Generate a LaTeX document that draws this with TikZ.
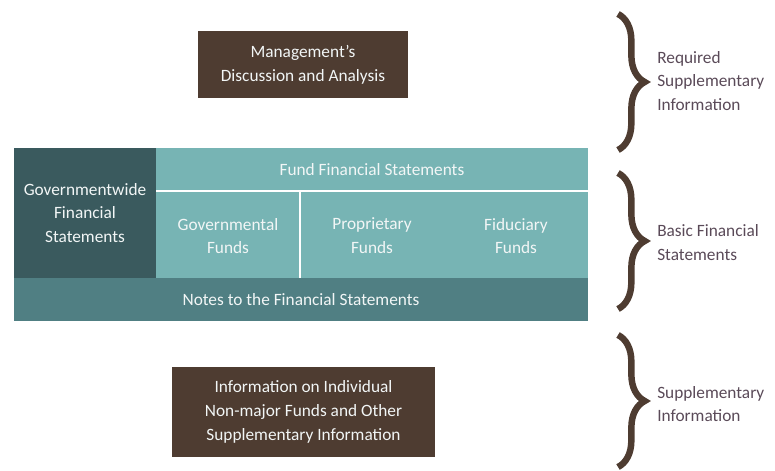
\documentclass[tikz,border=0pt]{standalone}
\usepackage{fontspec}
\setmainfont{Carlito}
\usetikzlibrary{decorations.pathreplacing}
\definecolor{mdbrown}{HTML}{4E3C31}
\definecolor{fsteal}{HTML}{77B4B4}
\definecolor{fsdark}{HTML}{3A5A5E}
\definecolor{fsnotes}{HTML}{507F83}
\definecolor{fstext}{HTML}{F2F6F6}
\definecolor{sidetxt}{HTML}{5A4A58}

\tikzset{
  brownbox/.style={fill=mdbrown, text=fstext, align=center, inner sep=0pt},
  cell/.style={inner sep=0pt, align=center, text=fstext},
  sidelabel/.style={anchor=west, align=left, text=sidetxt, inner sep=0pt},
  bigbrace/.style={draw=mdbrown, line width=4.6pt, decorate,
    decoration={brace, amplitude=19pt}},
}

\begin{document}
\begin{tikzpicture}[x=0.025cm, y=-0.025cm, font=\fontsize{12.3}{17}\selectfont]
  \useasboundingbox (0,0) rectangle (775,470);

  % top box
  \node[brownbox, minimum width=210*0.025cm, minimum height=67*0.025cm] (mda) at (303,64.5)
    {Management's\\Discussion and Analysis};

  % the statements block
  \node[cell, fill=fsdark, minimum width=142*0.025cm, minimum height=130*0.025cm] (gwide) at (85,213)
    {Governmentwide\\Financial\\Statements};
  \node[cell, fill=fsteal, minimum width=432*0.025cm, minimum height=130*0.025cm] (funds) at (372,213) {};
  \node[cell, fill=fsnotes, minimum width=574*0.025cm, minimum height=43*0.025cm] (notes) at (301,299.5)
    {Notes to the Financial Statements};
  \node[cell] (fundhead) at (372,170) {Fund Financial Statements};
  \node[cell] (govfunds) at (228,236) {Governmental\\Funds};
  \node[cell] (propfunds) at (372,236) {Proprietary\\Funds};
  \node[cell] (fidfunds) at (516,236) {Fiduciary\\Funds};
  \coordinate (hsplit) at (156,191);
  \coordinate (vsplit) at (300,191);
  \draw[white, line width=1.5pt] (hsplit) -- (hsplit -| funds.east);
  \draw[white, line width=1.5pt] (vsplit) -- (vsplit |- funds.south);

  % bottom box
  \node[brownbox, minimum width=263*0.025cm, minimum height=90*0.025cm] (other) at (303.5,412)
    {Information on Individual\\Non-major Funds and Other\\Supplementary Information};

  % braces and their labels
  \draw[bigbrace] (618,14) -- (618,150);
  \draw[bigbrace] (618,173) -- (618,309);
  \draw[bigbrace] (618,335) -- (618,467);
  \node[sidelabel] (rsi) at (657,81) {Required\\Supplementary\\Information};
  \node[sidelabel] (bfs) at (657,243) {Basic Financial\\Statements};
  \node[sidelabel] (si) at (657,404) {Supplementary\\Information};
\end{tikzpicture}
\end{document}
